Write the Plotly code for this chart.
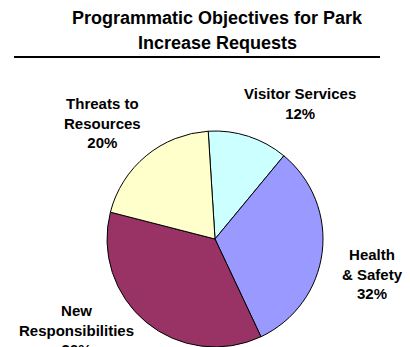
import plotly.graph_objects as go

W, H = 410, 347

title_lines = ["Programmatic Objectives for Park", "Increase Requests"]
categories = ["Visitor Services", "Health & Safety", "New Responsibilities", "Threats to Resources"]
label_text = ["Visitor Services", "Health<br>& Safety", "New<br>Responsibilities", "Threats to<br>Resources"]
values = [12, 32, 36, 20]
colors = ["#CCFFFF", "#9999FF", "#993366", "#FFFFCC"]

# label centre positions in pixels (layout)
label_pos = [(300, 103), (372, 274), (76, 330), (102, 123)]

FONT = "Arial, Liberation Sans, Helvetica, sans-serif"

fig = go.Figure()
fig.add_trace(go.Pie(
    values=values,
    labels=categories,
    marker=dict(colors=colors, line=dict(color="black", width=1)),
    sort=False,
    direction="clockwise",
    rotation=-3.6,
    textinfo="none",
    showlegend=False,
    domain=dict(x=[107 / W, 323 / W], y=[0, 216 / H]),
))

total = sum(values)
annotations = []
for txt, v, (px, py) in zip(label_text, values, label_pos):
    annotations.append(dict(
        text=f"<b>{txt}<br>{round(100 * v / total)}%</b>",
        x=px / W, y=1 - py / H, xref="paper", yref="paper",
        xanchor="center", yanchor="middle", showarrow=False,
        font=dict(family=FONT, size=15, color="black"), align="center",
    ))

title_y = [18, 43]
for t, py in zip(title_lines, title_y):
    annotations.append(dict(
        text=f"<b>{t}</b>", x=217 / W, y=1 - py / H, xref="paper", yref="paper",
        xanchor="center", yanchor="middle", showarrow=False,
        font=dict(family=FONT, size=18, color="black"),
    ))

fig.update_layout(
    width=W, height=H,
    margin=dict(l=0, r=0, t=0, b=0),
    paper_bgcolor="white", plot_bgcolor="white",
    annotations=annotations,
    shapes=[dict(type="line", xref="paper", yref="paper",
                 x0=14 / W, x1=380 / W, y0=1 - 57 / H, y1=1 - 57 / H,
                 line=dict(color="black", width=2))],
)

fig.write_html("out.html")
